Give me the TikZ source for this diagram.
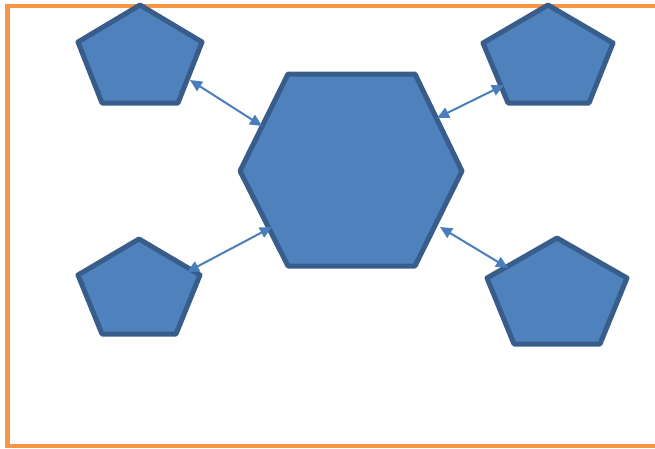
\documentclass[tikz,border=0pt]{standalone}
\usetikzlibrary{arrows.meta}
\definecolor{shapefill}{HTML}{4F81BD}
\definecolor{shapeline}{HTML}{385D8A}
\definecolor{arrowcol}{HTML}{4A7EBB}
\definecolor{framecol}{HTML}{F79646}
\tikzset{
  shapebox/.style={fill=shapefill, draw=shapeline, line width=5pt, line join=round},
  link/.style={draw=arrowcol, line width=2pt, {Triangle[length=12pt,width=11pt]}-{Triangle[length=12pt,width=11pt]}},
  frame/.style={draw=framecol, line width=4.5pt}
}
\begin{document}
\begin{tikzpicture}[x=1pt,y=-1pt]
\useasboundingbox (0,0) rectangle (655,448);
\begin{scope}
\clip (0,0) rectangle (655,448);
\draw[frame] (670,6) -- (7.5,6) -- (7.5,446) -- (670,446);
\end{scope}
% hexagon
\draw[shapebox] (288,74) -- (415,74) -- (462,171) -- (415,266) -- (288,266) -- (240,171) -- cycle;
% pentagons
\draw[shapebox] (140,5) -- (202,42) -- (178,103) -- (102,103) -- (78,42) -- cycle;
\draw[shapebox] (548,5) -- (613,43) -- (589,103) -- (508,103) -- (483,43) -- cycle;
\draw[shapebox] (139,239) -- (200,275) -- (176,334) -- (102,334) -- (78,275) -- cycle;
\draw[shapebox] (557,238) -- (627,278) -- (600,344) -- (514,344) -- (487,278) -- cycle;
% connector ends
\coordinate (tl) at (190,80);
\coordinate (htl) at (262,126);
\coordinate (tr) at (504,85);
\coordinate (htr) at (437,118);
\coordinate (bl) at (187,272);
\coordinate (hbl) at (272,227);
\coordinate (br) at (508,268);
\coordinate (hbr) at (440,227);
\draw[link] (tl) -- (htl);
\draw[link] (htr) -- (tr);
\draw[link] (bl) -- (hbl);
\draw[link] (hbr) -- (br);
\end{tikzpicture}
\end{document}
